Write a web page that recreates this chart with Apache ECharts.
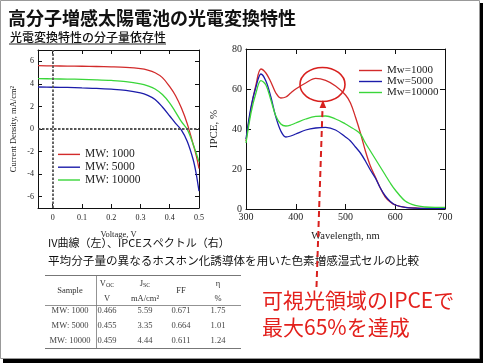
<!DOCTYPE html>
<html><head><meta charset="utf-8">
<script src="https://cdn.jsdelivr.net/npm/echarts@6/dist/echarts.min.js"></script>
<style>html,body{margin:0;padding:0;background:#fff}#c{width:483px;height:363px}</style>
</head><body><div id="c"></div>
<script>
// ---------- data ----------
const ivV     = [-0.05,0,0.05,0.1,0.15,0.2,0.25,0.3,0.325,0.35,0.375,0.4,0.42,0.44,0.46,0.48,0.49,0.5];
const ivRed   = [5.62,5.59,5.58,5.56,5.54,5.51,5.46,5.35,5.22,4.98,4.55,3.75,2.95,1.85,0.45,-1.35,-2.3,-3.5];
const ivBlue  = [3.72,3.7,3.68,3.64,3.6,3.53,3.42,3.2,2.98,2.62,1.95,1.15,0.5,-0.1,-1.1,-2.7,-3.9,-5.5];
const ivGreen = [4.47,4.44,4.42,4.4,4.36,4.3,4.2,4.0,3.82,3.55,3.05,2.3,1.5,0.65,-0.05,-1.35,-2.1,-2.9];
const ivNames = ['MW: 1000','MW: 5000','MW: 10000'];
const ivXTicks = [0,0.1,0.2,0.3,0.4,0.5];
const ivYTicks = [-6,-4,-2,0,2,4,6];

const wl      = [300,310,320,330,340,350,360,370,380,390,400,420,440,460,480,500,510,520,530,540,550,560,570,580,590,600,620,640,660,680,700];
const ipRed   = [34,50,62,70,68,63.5,58,55.5,56,58,60,63,65.3,64.3,61.5,57,53,46,38,29,21.5,16,10.5,6,3.5,2,0.8,0.5,0.3,0.3,0.3];
const ipBlue  = [35,51,61,67.5,64,56,46,39,36,36.5,37.5,39.5,40.5,40.8,39.5,36,34,31,28,24,19.5,15.5,10.5,6.5,3.8,2,0.8,0.4,0.3,0.3,0.3];
const ipGreen = [33,48,58,64.2,62,54.5,46.5,42.5,41.5,42,43,45,46.3,46.5,45,42.5,41,39.5,37.5,33,29,25,21,17,13,9.5,4,1.8,1,0.8,0.8];
const ipNames = ['Mw=1000','Mw=5000','Mw=10000'];

const tblHead   = ['Sample','V{s|OC}\nV','J{s|SC}\nmA/cm²','FF','η\n%'];
const tblSample = ['MW: 1000','MW: 5000','MW: 10000'];
const tblVoc    = ['0.466','0.455','0.459'];
const tblJsc    = ['5.59','3.35','4.44'];
const tblFF     = ['0.671','0.664','0.611'];
const tblEta    = ['1.75','1.01','1.24'];

const titleText = '高分子増感太陽電池の光電変換特性';
const subText   = '光電変換特性の分子量依存性';
const cap1 = 'IV曲線（左）、IPCEスペクトル（右）';
const cap2 = '平均分子量の異なるホスホン化誘導体を用いた色素増感湿式セルの比較';
const red1 = '可視光領域のIPCEで';
const red2 = '最大65%を達成';

// ---------- styles ----------
const SERIF = '"Liberation Serif", "DejaVu Serif", serif';
const JP = '"Noto Sans CJK JP", "Noto Sans", sans-serif';
const cRed = '#d22b2b', cBlue = '#1c1caa', cGreen = '#3ad63a';

const pairs = (xs, ys) => xs.map((x, i) => [x, ys[i]]);

function boxAxes(grid, min, max, ticks, isX, labelOpt, nameOpt, tickLen) {
  const base = {
    gridIndex: grid, type: 'value', min, max,
    axisLine: {show: true, onZero: false, lineStyle: {color: '#111', width: 1}},
    axisTick: {show: true, inside: true, length: tickLen, customValues: ticks, lineStyle: {color: '#111'}},
    splitLine: {show: false}
  };
  const a = Object.assign({}, base, nameOpt, {
    position: isX ? 'bottom' : 'left',
    axisLabel: Object.assign({show: true, customValues: ticks, fontFamily: SERIF, color: '#222'}, labelOpt)
  });
  const b = Object.assign({}, base, {position: isX ? 'top' : 'right', axisLabel: {show: false}});
  return [a, b];
}

const ivX = boxAxes(0, -0.05, 0.5, ivXTicks, true, {fontSize: 8, margin: 6},
  {name: 'Voltage, V', nameLocation: 'middle', nameGap: 22, nameTextStyle: {fontFamily: SERIF, fontSize: 8.5, color: '#222'}}, 4);
const ivY = boxAxes(0, -7, 7, ivYTicks, false, {fontSize: 8, margin: 4},
  {name: 'Current Density, mA/cm²', nameLocation: 'middle', nameGap: 20, nameTextStyle: {fontFamily: SERIF, fontSize: 8.5, color: '#222'}}, 4);
const ipXT = [300,400,500,600,700], ipYT = [0,20,40,60,80];
const ipX = boxAxes(1, 300, 700, ipXT, true, {fontSize: 10, margin: 3},
  {name: 'Wavelength, nm', nameLocation: 'middle', nameGap: 22, nameTextStyle: {fontFamily: SERIF, fontSize: 10.5, color: '#222'}}, 5);
const ipY = boxAxes(1, 0, 80, ipYT, false, {fontSize: 10, margin: 4},
  {name: 'IPCE, %', nameLocation: 'middle', nameGap: 26, nameTextStyle: {fontFamily: SERIF, fontSize: 11, color: '#222'}}, 5);

function lineSeries(name, data, color, xi, yi, extra) {
  return Object.assign({
    name, type: 'line', data, xAxisIndex: xi, yAxisIndex: yi,
    symbol: 'none', smooth: 0.35, lineStyle: {color, width: 1.3}, itemStyle: {color}, silent: true, animation: false
  }, extra || {});
}

// table graphics
const colX = [70, 107, 145, 181, 218];
const tableEls = [];
tblHead.forEach((h, i) => {
  tableEls.push({type: 'text', x: colX[i], y: 291, style: {
    text: h, align: 'center', verticalAlign: 'middle', fontFamily: SERIF, fontSize: 8.5, fill: '#333', lineHeight: 15,
    rich: {s: {fontSize: 6, fontFamily: SERIF, fill: '#333', padding: [4, 0, 0, 0]}}
  }});
});
const rowsY = [311, 326, 341];
const cols = [tblSample, tblVoc, tblJsc, tblFF, tblEta];
cols.forEach((col, ci) => col.forEach((v, ri) => {
  tableEls.push({type: 'text', x: colX[ci], y: rowsY[ri], style: {
    text: v, align: 'center', verticalAlign: 'middle', fontFamily: SERIF, fontSize: 8.5, fill: '#444'}});
}));
const tl = (x1, y1, x2, y2, w) => ({type: 'line', shape: {x1, y1, x2, y2}, style: {stroke: '#777', lineWidth: w || 1}});
tableEls.push(tl(45, 275.5, 241, 275.5, 1.2), tl(45, 305.5, 241, 305.5, 0.8), tl(45, 348.5, 241, 348.5, 1.2), tl(96.5, 275.5, 96.5, 348.5, 0.8));

const option = {
  animation: false,
  backgroundColor: 'transparent',
  grid: [
    {left: 38, top: 50, width: 161, height: 158},
    {left: 246, top: 49, width: 199, height: 160}
  ],
  xAxis: [ivX[0], ivX[1], ipX[0], ipX[1]],
  yAxis: [ivY[0], ivY[1], ipY[0], ipY[1]],
  legend: [
    {data: ivNames, left: 53, top: 143, orient: 'vertical', icon: 'rect', itemWidth: 22, itemHeight: 1.4, itemGap: 0,
     selectedMode: false, textStyle: {fontFamily: SERIF, fontSize: 11.5, color: '#222', lineHeight: 12.8}},
    {data: ipNames, left: 354, top: 60, orient: 'vertical', icon: 'rect', itemWidth: 23, itemHeight: 1.4, itemGap: 0,
     selectedMode: false, textStyle: {fontFamily: SERIF, fontSize: 11, color: '#222', lineHeight: 11}}
  ],
  series: [
    lineSeries(ivNames[0], pairs(ivV, ivRed), cRed, 0, 0, {
      markLine: {symbol: 'none', silent: true, label: {show: false}, animation: false,
        lineStyle: {color: '#555', type: [2.5, 1.5], width: 1.8}, data: [{xAxis: 0}, {yAxis: 0}]}, z: 3}),
    lineSeries(ivNames[1], pairs(ivV, ivBlue), cBlue, 0, 0, {z: 3}),
    lineSeries(ivNames[2], pairs(ivV, ivGreen), cGreen, 0, 0, {z: 3}),
    lineSeries(ipNames[0], pairs(wl, ipRed), cRed, 2, 2),
    lineSeries(ipNames[1], pairs(wl, ipBlue), cBlue, 2, 2),
    lineSeries(ipNames[2], pairs(wl, ipGreen), cGreen, 2, 2)
  ],
  graphic: [
    {type: 'rect', z: -20, shape: {x: 3, y: 3, width: 480, height: 360}, style: {fill: '#000'}},
    {type: 'rect', z: -19, shape: {x: 0.5, y: 0.5, width: 479, height: 358}, style: {fill: '#fff', stroke: '#999', lineWidth: 1}},
    {type: 'text', x: 8, y: 18, style: {text: titleText, fontFamily: JP, fontSize: 18, fontWeight: 'bold', fill: '#111', verticalAlign: 'middle'}},
    {type: 'text', x: 10, y: 37, style: {text: subText, fontFamily: JP, fontSize: 12, fontWeight: 500, fill: '#111', verticalAlign: 'middle'}},
    {type: 'line', shape: {x1: 9, y1: 44, x2: 166, y2: 44}, style: {stroke: '#222', lineWidth: 1}},
    {type: 'text', x: 48, y: 243, style: {text: cap1, fontFamily: JP, fontSize: 11, fill: '#111', verticalAlign: 'middle'}},
    {type: 'text', x: 48, y: 261, style: {text: cap2, fontFamily: JP, fontSize: 11.6, fill: '#111', verticalAlign: 'middle'}},
    {type: 'text', x: 262, y: 300, style: {text: red1, fontFamily: JP, fontSize: 21, fill: '#e3201c', verticalAlign: 'middle'}},
    {type: 'text', x: 262, y: 327, style: {text: red2, fontFamily: JP, fontSize: 21, fill: '#e3201c', verticalAlign: 'middle'}},
    {type: 'ellipse', z: 10, shape: {cx: 322.5, cy: 84.5, rx: 22.5, ry: 17}, style: {fill: null, stroke: '#d8201e', lineWidth: 1.6}},
    {type: 'line', z: 10, shape: {x1: 316.5, y1: 287, x2: 322.6, y2: 106}, style: {stroke: '#d8201e', lineWidth: 2, lineDash: [6, 4]}},
    {type: 'polygon', z: 10, shape: {points: [[322.9, 100], [319.6, 108], [326.2, 108]]}, style: {fill: '#d8201e'}}
  ].concat(tableEls)
};

const chart = echarts.init(document.getElementById('c'), null, {renderer: 'canvas', width: 483, height: 363});
chart.setOption(option);
</script></body></html>
